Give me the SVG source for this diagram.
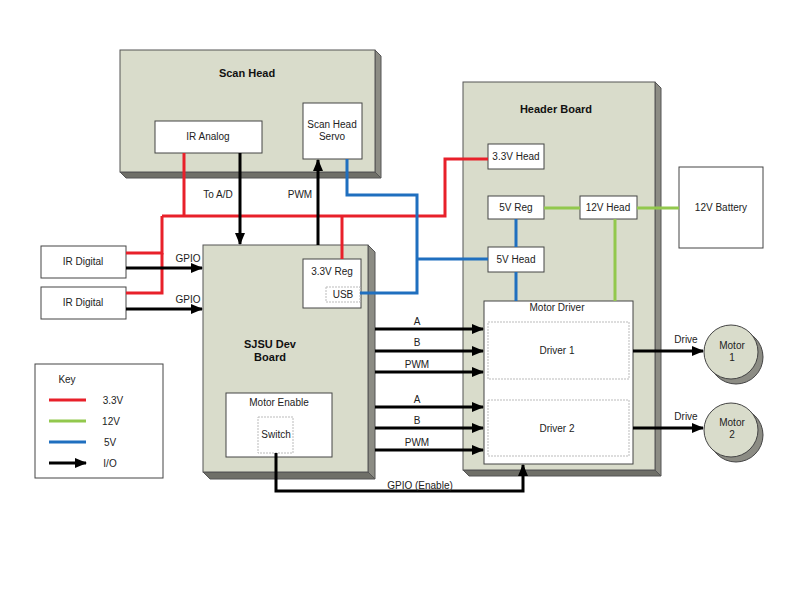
<svg xmlns="http://www.w3.org/2000/svg" width="800" height="600" viewBox="0 0 800 600">
<style>
text{font-family:"Liberation Sans",Arial,sans-serif;font-size:10px;fill:#222;text-anchor:middle}
.t{font-weight:bold;font-size:11px;fill:#111}
.board{fill:#d9dccb;stroke:#555;stroke-width:1}
.sr{fill:#8c8c84;stroke:#555;stroke-width:1}
.sb{fill:#6f6f68;stroke:#555;stroke-width:1}
.box{fill:#fff;stroke:#444;stroke-width:1}
.dash{fill:#fff;stroke:#bbb;stroke-width:1;stroke-dasharray:2 1}
.r{stroke:#e8202a;stroke-width:3;fill:none}
.g{stroke:#92c84d;stroke-width:3;fill:none}
.b{stroke:#1f6fbf;stroke-width:3;fill:none}
.k{stroke:#000;stroke-width:3;fill:none}
.ka{stroke:#000;stroke-width:3;fill:none;marker-end:url(#ah)}
</style>
<defs>
<marker id="ah" markerUnits="userSpaceOnUse" markerWidth="12" markerHeight="10" refX="11" refY="5" orient="auto">
<path d="M0,0 L12,5 L0,10 Z" fill="#000"/>
</marker>
</defs>
<rect width="800" height="600" fill="#fff"/>

<g id="scan-head">
<polygon class="sr" points="375,50 381,56 381,178 375,172"/>
<polygon class="sb" points="120,172 375,172 381,178 126,178"/>
<rect class="board" x="120" y="50" width="255" height="122"/>
<text class="t" x="247" y="77">Scan Head</text>
</g>
<g id="ir-analog">
<rect class="box" x="155" y="121" width="107" height="32"/>
<text x="208" y="140">IR Analog</text>
</g>
<g id="scan-head-servo">
<rect class="box" x="303" y="103" width="59" height="56"/>
<text x="332" y="128">Scan Head</text>
<text x="332" y="140">Servo</text>
</g>

<g id="header-board">
<polygon class="sr" points="655,82 661,88 661,476 655,470"/>
<polygon class="sb" points="463,470 655,470 661,476 469,476"/>
<rect class="board" x="463" y="82" width="192" height="388"/>
<text class="t" x="556" y="113">Header Board</text>
</g>
<g id="h33-head">
<rect class="box" x="488" y="144" width="56" height="25"/>
<text x="516" y="160">3.3V Head</text>
</g>
<g id="v5-reg">
<rect class="box" x="488" y="196" width="56" height="23"/>
<text x="516" y="211">5V Reg</text>
</g>
<g id="h12-head">
<rect class="box" x="580" y="196" width="57" height="23"/>
<text x="608" y="211">12V Head</text>
</g>
<g id="v5-head">
<rect class="box" x="488" y="247" width="56" height="25"/>
<text x="516" y="263">5V Head</text>
</g>
<g id="motor-driver">
<rect class="box" x="484" y="301" width="149" height="163"/>
<text x="557" y="311">Motor Driver</text>
</g>
<g id="driver-1">
<rect class="dash" x="488" y="322" width="141" height="57"/>
<text x="557" y="354">Driver 1</text>
</g>
<g id="driver-2">
<rect class="dash" x="488" y="400" width="141" height="56"/>
<text x="557" y="432">Driver 2</text>
</g>

<g id="battery">
<rect class="box" x="679" y="167" width="84" height="81"/>
<text x="721" y="211">12V Battery</text>
</g>

<g id="ir-digital-1">
<rect class="box" x="41" y="246" width="85" height="32"/>
<text x="83" y="265">IR Digital</text>
</g>
<g id="ir-digital-2">
<rect class="box" x="41" y="287" width="85" height="32"/>
<text x="83" y="306">IR Digital</text>
</g>

<g id="dev-board">
<polygon class="sr" points="368,245 375,252 375,479 368,472"/>
<polygon class="sb" points="203,472 368,472 375,479 210,479"/>
<rect class="board" x="203" y="245" width="165" height="227"/>
<text class="t" x="270" y="348">SJSU Dev</text>
<text class="t" x="270" y="361">Board</text>
</g>
<g id="reg33">
<rect class="box" x="303" y="259" width="58" height="49"/>
<text x="332" y="275">3.3V Reg</text>
</g>
<g id="usb">
<rect class="dash" x="326" y="287" width="34" height="15"/>
<text x="343" y="298">USB</text>
</g>
<g id="motor-enable">
<rect class="box" x="226" y="393" width="106" height="64"/>
<text x="279" y="406">Motor Enable</text>
</g>
<g id="switch">
<rect class="dash" x="258" y="417" width="35" height="36"/>
<text x="276" y="438">Switch</text>
</g>

<g id="motor-1">
<circle cx="736" cy="357" r="27" fill="#8c8c84" stroke="#444"/>
<circle cx="731" cy="352" r="27" fill="#d9dccb" stroke="#444"/>
<text x="732" y="349">Motor</text>
<text x="732" y="361">1</text>
</g>
<g id="motor-2">
<circle cx="736" cy="435" r="27" fill="#8c8c84" stroke="#444"/>
<circle cx="731" cy="430" r="27" fill="#d9dccb" stroke="#444"/>
<text x="732" y="426">Motor</text>
<text x="732" y="438">2</text>
</g>

<g id="key">
<rect class="box" x="35" y="364" width="128" height="114"/>
<text x="67" y="383">Key</text>
<line class="r" x1="49" y1="400" x2="86" y2="400"/>
<line class="g" x1="49" y1="421" x2="86" y2="421"/>
<line class="b" x1="49" y1="442" x2="86" y2="442"/>
<line class="ka" x1="49" y1="463" x2="86" y2="463"/>
<text x="113" y="404">3.3V</text>
<text x="111" y="425">12V</text>
<text x="110" y="446">5V</text>
<text x="110" y="467">I/O</text>
</g>

<g id="connectors">
<path class="r" d="M184,153 V216"/>
<path class="r" d="M162,216 H445 V159 H488"/>
<path class="r" d="M342,216 V259"/>
<path class="r" d="M126,253 H162 V216"/>
<path class="r" d="M126,293 H162 V253"/>
<path class="b" d="M347,159 V195 H417 V293 H360"/>
<path class="b" d="M417,259 H488"/>
<path class="b" d="M516,219 V247"/>
<path class="b" d="M516,272 V301"/>
<path class="g" d="M544,208 H580"/>
<path class="g" d="M637,208 H679"/>
<path class="g" d="M615,219 V301"/>
<path class="ka" d="M240,153 V244"/>
<path class="ka" d="M318,245 V160"/>
<path class="ka" d="M126,268 H202"/>
<path class="ka" d="M126,309 H202"/>
<path class="ka" d="M375,329 H483"/>
<path class="ka" d="M375,351 H483"/>
<path class="ka" d="M375,372 H483"/>
<path class="ka" d="M375,407 H483"/>
<path class="ka" d="M375,428 H483"/>
<path class="ka" d="M375,450 H483"/>
<path class="ka" d="M633,351 H703"/>
<path class="ka" d="M633,428 H703"/>
<path class="ka" d="M276,453 V491 H523 V465"/>
<text x="218" y="198">To A/D</text>
<text x="300" y="198">PWM</text>
<text x="188" y="262">GPIO</text>
<text x="188" y="303">GPIO</text>
<text x="417" y="325">A</text>
<text x="417" y="346">B</text>
<text x="417" y="368">PWM</text>
<text x="417" y="403">A</text>
<text x="417" y="424">B</text>
<text x="417" y="446">PWM</text>
<text x="686" y="343">Drive</text>
<text x="686" y="420">Drive</text>
<text x="420" y="489">GPIO (Enable)</text>
</g>
</svg>
